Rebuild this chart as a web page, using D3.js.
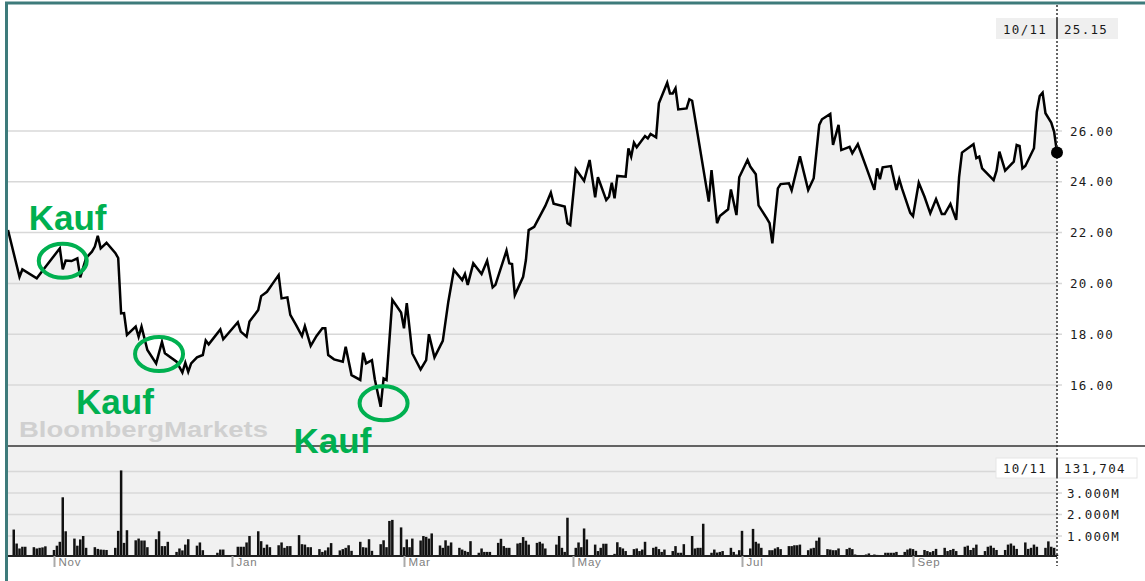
<!DOCTYPE html>
<html>
<head>
<meta charset="utf-8">
<script src="https://cdn.jsdelivr.net/npm/d3@7"></script>
<style>
  body { margin: 0; background: #fff; }
  .mono { font-family: "DejaVu Sans Mono", monospace; font-size: 12.5px; letter-spacing: 1.3px; fill: #1a1a1a; }
</style>
</head>
<body>
<script>
var svgWidth = 1145;
var svgHeight = 581;

// closing prices; priceDay = days after 2010-10-16
var priceDay = [0, 4, 5, 10, 12, 18, 19, 20, 22, 24, 25, 27, 29, 30, 31, 32, 34, 37, 38, 39,
  40, 41, 44, 45, 46, 48, 51, 53, 54, 58, 60, 61, 62, 63, 65, 67, 68, 69, 73, 74,
  79, 80, 82, 83, 86, 87, 89, 91, 93, 94, 96, 97, 99, 101, 102, 104, 106, 108, 109, 110,
  112, 115, 116, 118, 121, 122, 123, 125, 126, 128, 129, 130, 132, 135, 136, 137, 139, 142, 144, 145,
  147, 150, 152, 154, 157, 158, 159, 161, 164, 166, 168, 169, 173, 174, 175, 176, 179, 180, 181, 183,
  187, 189, 190, 194, 195, 196, 198, 201, 203, 205, 206, 209, 210, 211, 212, 213, 216, 217, 218, 219,
  220, 223, 224, 225, 227, 228, 231, 232, 233, 234, 235, 238, 239, 240, 246, 247, 249, 250, 253, 254,
  256, 257, 260, 261, 263, 264, 267, 268, 269, 271, 272, 275, 276, 279, 282, 284, 286, 287, 290, 291,
  293, 294, 297, 298, 300, 303, 306, 307, 308, 309, 312, 314, 315, 316, 319, 320, 322, 324, 326, 328,
  330, 331, 333, 335, 336, 337, 341, 342, 343, 344, 348, 349, 350, 352, 355, 356, 357, 358, 359, 362,
  363, 364, 365, 366, 368, 369, 370];
var priceClose = [22.1, 20.26, 20.55, 20.2, 20.5, 21.38, 20.55, 20.9, 20.88, 20.99, 20.24, 21.0, 21.25, 21.45, 21.87, 21.38, 21.6, 21.2, 21.0, 18.82,
  18.83, 17.97, 18.3, 17.9, 18.3, 17.38, 16.85, 17.7, 17.25, 16.92, 16.49, 16.88, 16.52, 16.85, 17.09, 17.18, 17.75, 17.6, 18.19, 17.8,
  18.47, 18.1, 17.9, 18.5, 18.95, 19.5, 19.67, 20.0, 20.33, 19.41, 19.45, 18.76, 18.36, 17.93, 18.32, 17.54, 17.93, 18.23, 18.23, 17.18,
  17.01, 16.92, 17.51, 16.39, 16.2, 17.27, 16.85, 16.98, 16.22, 15.14, 16.26, 16.2, 19.35, 18.85, 18.23, 19.22, 17.24, 16.61, 16.98, 18.0,
  17.09, 17.74, 19.28, 20.53, 20.13, 20.37, 19.94, 20.79, 20.37, 20.89, 19.84, 19.94, 21.29, 20.79, 20.76, 19.54, 20.26, 20.92, 22.1, 22.23,
  23.05, 23.57, 23.14, 23.03, 22.37, 22.3, 24.5, 24.04, 24.86, 23.39, 24.18, 23.28, 23.41, 23.96, 23.35, 24.23, 24.2, 25.32, 24.99, 25.54,
  25.36, 25.8, 25.71, 25.88, 25.75, 27.09, 27.9, 27.48, 27.48, 27.68, 26.85, 26.89, 27.25, 27.19, 23.22, 24.46, 22.37, 22.65, 22.92, 23.7,
  22.69, 24.18, 24.86, 24.6, 24.3, 23.07, 22.56, 22.37, 21.58, 23.74, 23.91, 23.94, 23.66, 25.0, 23.68, 24.14, 26.24, 26.46, 26.67, 25.45,
  26.24, 25.25, 25.38, 25.12, 25.48, 24.59, 23.68, 24.53, 24.1, 24.57, 24.62, 23.68, 24.1, 23.74, 22.78, 22.65, 23.96, 23.41, 22.76, 23.32,
  22.73, 22.73, 23.13, 22.5, 24.18, 25.15, 25.48, 24.93, 24.99, 24.53, 24.07, 24.44, 25.19, 24.44, 24.79, 25.45, 25.41, 24.53, 24.62, 25.32,
  26.76, 27.38, 27.51, 26.7, 26.33, 25.97, 25.15];

// daily volume in millions, one value per trading day from 2010-10-18 (one line = one week)
var volumes = [
  1.3, 0.65, 0.42, 0.5, 0.5,
  0.48, 0.42, 0.45, 0.47, 0.52,
  0.35, 0.55, 0.73, 2.8, 1.22,
  0.88, 0.55, 0.84, 1.0, 0.45,
  0.48, 0.4, 0.37, 0.36, 0.35,
  0.45, 1.24, 4.05, 0.68, 1.27,
  0.8, 0.88, 0.79, 0.79, 0.48,
  0.85, 1.22, 0.53, 0.53, 0.73,
  0.26, 0.42, 0.33, 0.6, 0.85,
  0.55, 0.7, 0.34, 0.1,
  0.22, 0.37, 0.37, 0.06,
  0.5, 0.5, 0.5, 0.7, 1.0,
  1.22, 0.76, 0.45, 0.6, 0.48,
  0.57, 0.7, 0.45, 0.53, 0.53,
  1.04, 0.62, 0.6, 0.48, 0.48,
  0.39, 0.26, 0.33, 0.47, 0.67,
  0.33, 0.39, 0.45, 0.57, 0.31,
  0.73, 0.48, 0.46, 0.85, 0.31,
  0.62, 0.8, 0.48, 1.7, 1.75,
  1.4, 0.48, 0.84, 0.48, 0.88,
  0.79, 1.0, 0.96, 0.88, 1.12,
  0.56, 0.45, 0.8, 0.55, 0.7,
  0.45, 0.37, 0.31, 0.26, 0.76,
  0.22, 0.42, 0.26, 0.26, 0.26,
  0.68, 0.87, 0.53, 0.45, 0.45,
  0.65, 0.68, 0.95, 0.78, 0.6,
  0.68, 0.73, 0.65, 0.42,
  0.6, 1.0, 0.45, 0.26, 1.85,
  0.45, 0.7, 0.48, 1.35, 0.84,
  0.6, 0.3, 0.45, 0.64, 0.64,
  0.17, 0.71, 0.48, 0.42, 0.3,
  0.39, 0.42, 0.3, 0.37, 0.73,
  0.45, 0.5, 0.39, 0.26, 0.37,
  0.3, 0.53, 0.22, 0.22, 0.62,
  1.0, 0.42, 0.45, 0.45, 1.57,
  0.22, 0.37, 0.23, 0.26, 0.3,
  0.45, 0.26, 0.14, 0.34, 1.24,
  0.42, 1.33, 0.73, 0.65, 0.45,
  0.34, 0.34, 0.42, 0.48, 0.39,
  0.53, 0.53, 0.57, 0.57, 0.6,
  0.34, 0.42, 0.45, 0.78, 0.93,
  0.39, 0.37, 0.34, 0.34, 0.42,
  0.39, 0.45, 0.39, 0.14, 0.1,
  0.14, 0.19, 0.1, 0.14, 0.12,
  0.22, 0.22, 0.22, 0.22, 0.26,
  0.26, 0.37, 0.42, 0.39, 0.31,
  0.35, 0.3, 0.25, 0.3, 0.4,
  0.45, 0.3, 0.35, 0.4, 0.3,
  0.5, 0.55, 0.35, 0.45, 0.6,
  0.3, 0.5, 0.55, 0.45, 0.35,
  0.35, 0.6, 0.65, 0.55, 0.4,
  0.7, 0.4, 0.45, 0.6, 0.5,
  0.45, 0.75, 0.5, 0.45, 0.13
];
var holidays = ["2010-12-24", "2010-12-31", "2011-04-22"];

var monthTicks = ["2010-11-01", "2011-01-01", "2011-03-01", "2011-05-01", "2011-07-01", "2011-09-01"];
var monthLabels = ["Nov", "Jan", "Mar", "May", "Jul", "Sep"];
var priceTicks = [16, 18, 20, 22, 24, 26];
var volumeTicks = [1, 2, 3];
var volumeGrid = [1, 2, 3, 4];

var lastDateLabel = "10/11";
var lastPriceLabel = "25.15";
var lastVolumeLabel = "131,704";

// "Kauf" (buy) marks: day after 2010-10-16 and price
var buyDay = [19, 52, 129];
var buyPrice = [20.89, 17.22, 15.28];
var buyText = "Kauf";

var parseDate = d3.timeParse("%Y-%m-%d");
var fmtDate = d3.timeFormat("%Y-%m-%d");
var startDay = parseDate("2010-10-16");

var priceData = priceDay.map(function(d, i) {
  return { date: d3.timeDay.offset(startDay, d), close: priceClose[i] };
});

var volumeData = [];
var day = parseDate("2010-10-18");
var vi = 0;
while (vi < volumes.length) {
  var wd = day.getDay();
  if (wd !== 0 && wd !== 6 && holidays.indexOf(fmtDate(day)) < 0) {
    volumeData.push({ date: day, volume: volumes[vi] });
    vi++;
  }
  day = d3.timeDay.offset(day, 1);
}

// panel geometry
var left = 8, plotRight = 1057;
var priceBottom = 446, volBottom = 556;

var svg = d3.select("body")
  .append("svg")
  .attr("width", svgWidth)
  .attr("height", svgHeight);

var x = d3.scaleTime()
  .domain(["2010-10-16", "2010-11-01", "2011-01-01", "2011-03-01", "2011-05-01", "2011-07-01", "2011-09-01", "2011-10-21"].map(parseDate))
  .range([left, 54, 232, 404, 573, 742, 913, plotRight]);

var yPrice = d3.scaleLinear().domain([16, 26]).range([385, 131]);
var yVol = d3.scaleLinear().domain([0, 4]).range([557.5, 471.5]);

// volume panel background
svg.append("rect")
  .attr("x", left).attr("y", priceBottom)
  .attr("width", plotRight - left).attr("height", volBottom - priceBottom)
  .attr("fill", "#f1f1f1");

// price area
var area = d3.area()
  .x(d => x(d.date))
  .y0(priceBottom)
  .y1(d => yPrice(d.close));

svg.append("path")
  .datum(priceData)
  .attr("d", area)
  .attr("fill", "#f1f1f1");

// grid lines
svg.append("g").selectAll("line")
  .data(priceTicks)
  .join("line")
  .attr("x1", left).attr("x2", 1062)
  .attr("y1", d => yPrice(d)).attr("y2", d => yPrice(d))
  .attr("stroke", "#d8d8d8").attr("stroke-width", 1.5);

svg.append("g").selectAll("line")
  .data(volumeGrid)
  .join("line")
  .attr("x1", left).attr("x2", 1062)
  .attr("y1", d => yVol(d)).attr("y2", d => yVol(d))
  .attr("stroke", "#d8d8d8").attr("stroke-width", 1.5);

// watermark
svg.append("text")
  .attr("x", 19).attr("y", 437)
  .attr("textLength", 249).attr("lengthAdjust", "spacingAndGlyphs")
  .style("font-family", "Liberation Sans, Arial, sans-serif")
  .style("font-weight", "bold").style("font-size", "22px")
  .attr("fill", "#d0d0d0")
  .text("BloombergMarkets");

// price line
var line = d3.line()
  .x(d => x(d.date))
  .y(d => yPrice(d.close));

svg.append("path")
  .datum(priceData)
  .attr("d", line)
  .attr("fill", "none")
  .attr("stroke", "#000")
  .attr("stroke-width", 2.5);

// price axis labels
var priceAxis = d3.axisRight(yPrice)
  .tickValues(priceTicks)
  .tickSize(0)
  .tickPadding(0)
  .tickFormat(d3.format(".2f"));
var pa = svg.append("g").attr("transform", "translate(1070,0)").call(priceAxis);
pa.select(".domain").remove();
pa.selectAll("text").attr("class", "mono").attr("fill", "#1a1a1a").style("font-family", null).style("font-size", null);

// separator between panels
svg.append("line")
  .attr("x1", left).attr("x2", svgWidth)
  .attr("y1", priceBottom).attr("y2", priceBottom)
  .attr("stroke", "#333").attr("stroke-width", 1.5);

// volume bars
svg.append("g").selectAll("rect")
  .data(volumeData)
  .join("rect")
  .attr("x", d => x(d.date) - 1.25)
  .attr("width", 2.5)
  .attr("y", d => Math.min(yVol(d.volume), volBottom - 1))
  .attr("height", d => volBottom - Math.min(yVol(d.volume), volBottom - 1))
  .attr("fill", "#111");

// volume axis labels
var volAxis = d3.axisRight(yVol)
  .tickValues(volumeTicks)
  .tickSize(0)
  .tickPadding(0)
  .tickFormat(d => d3.format(".3f")(d) + "M");
var va = svg.append("g").attr("transform", "translate(1067,0)").call(volAxis);
va.select(".domain").remove();
va.selectAll("text").attr("class", "mono").attr("fill", "#1a1a1a").style("font-family", null).style("font-size", null);

// baseline + month axis
svg.append("line")
  .attr("x1", left).attr("x2", plotRight)
  .attr("y1", volBottom).attr("y2", volBottom)
  .attr("stroke", "#222").attr("stroke-width", 2);

var xAxis = d3.axisBottom(x)
  .tickValues(monthTicks.map(parseDate))
  .tickSize(11)
  .tickFormat((d, i) => monthLabels[i]);
var xa = svg.append("g").attr("transform", `translate(0, ${volBottom})`).call(xAxis);
xa.select(".domain").remove();
xa.selectAll(".tick line").attr("stroke", "#aaa").attr("stroke-width", 2);
xa.selectAll(".tick text")
  .attr("text-anchor", "start")
  .attr("x", 4).attr("y", 2).attr("dy", "0.71em")
  .attr("fill", "#808080")
  .style("font-family", "Liberation Sans, Arial, sans-serif")
  .style("font-size", "11.5px")
  .style("letter-spacing", "0.8px");

// crosshair at last point
svg.append("line")
  .attr("x1", plotRight).attr("x2", plotRight)
  .attr("y1", 5).attr("y2", 566)
  .attr("stroke", "#333").attr("stroke-width", 1.5)
  .attr("stroke-dasharray", "2,2");

var last = priceData[priceData.length - 1];
svg.append("circle")
  .attr("cx", x(last.date)).attr("cy", yPrice(last.close))
  .attr("r", 6).attr("fill", "#000");

// last value boxes
svg.append("rect")
  .attr("x", 996).attr("y", 18).attr("width", 122).attr("height", 21)
  .attr("fill", "#efefef");
svg.append("line")
  .attr("x1", plotRight).attr("x2", plotRight).attr("y1", 18).attr("y2", 39)
  .attr("stroke", "#222").attr("stroke-width", 1.5);
svg.append("text").attr("class", "mono").attr("x", 1003).attr("y", 34).text(lastDateLabel);
svg.append("text").attr("class", "mono").attr("x", 1064).attr("y", 34).text(lastPriceLabel);

svg.append("rect")
  .attr("x", 996).attr("y", 458).attr("width", 141).attr("height", 20)
  .attr("fill", "#fff").attr("stroke", "#e6e6e6");
svg.append("line")
  .attr("x1", plotRight).attr("x2", plotRight).attr("y1", 458).attr("y2", 478)
  .attr("stroke", "#222").attr("stroke-width", 1.5);
svg.append("text").attr("class", "mono").attr("x", 1003).attr("y", 473).text(lastDateLabel);
svg.append("text").attr("class", "mono").attr("x", 1064).attr("y", 473).text(lastVolumeLabel);

// buy annotations
var green = "#00b050";
var labelOffset = [[-34, -31], [-83, 60], [-90, 50]];
buyDay.forEach(function(d, i) {
  var cx = x(d3.timeDay.offset(startDay, d));
  var cy = yPrice(buyPrice[i]);
  svg.append("ellipse")
    .attr("cx", cx).attr("cy", cy)
    .attr("rx", 24).attr("ry", 17)
    .attr("fill", "none").attr("stroke", green).attr("stroke-width", 4);
  svg.append("text")
    .attr("x", cx + labelOffset[i][0]).attr("y", cy + labelOffset[i][1])
    .attr("fill", green)
    .style("font-family", "Liberation Sans, Arial, sans-serif")
    .style("font-weight", "bold").style("font-size", "35px")
    .text(buyText);
});

// outer frame
svg.append("rect")
  .attr("x", 6.5).attr("y", 3)
  .attr("width", svgWidth + 10).attr("height", svgHeight + 10)
  .attr("fill", "none").attr("stroke", "#3e7b7b").attr("stroke-width", 3);
</script>
</body>
</html>
